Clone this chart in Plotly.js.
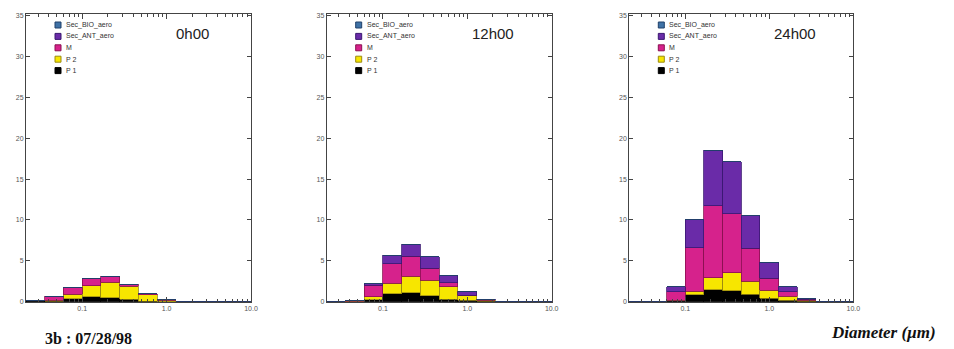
<!DOCTYPE html>
<html>
<head>
<meta charset="utf-8">
<script src="https://cdn.plot.ly/plotly-3.0.1.min.js"></script>
<style>
  html, body { margin: 0; padding: 0; background: #ffffff; }
  #chart { width: 954px; height: 349px; }
</style>
</head>
<body>
<div id="chart"></div>
<script>
// ---------- DATA ----------
// bin-centre diameters (µm), logarithmic size sections
const binDiameters = [0.0279, 0.0465, 0.0774, 0.129, 0.215, 0.359, 0.598, 0.998, 1.66, 2.77, 4.62, 7.71];

const panelTitles = ["0h00", "12h00", "24h00"];
const speciesNames = ["P 1", "P 2", "M", "Sec_ANT_aero", "Sec_BIO_aero"];

// 0h00
const p1_0h  = [0.10, 0.05, 0.35, 0.60, 0.50, 0.30, 0.05, 0.02, 0.02, 0.02, 0.02, 0.02];
const p2_0h  = [0.00, 0.10, 0.55, 1.35, 1.90, 1.60, 0.80, 0.15, 0.02, 0.00, 0.00, 0.00];
const m_0h   = [0.00, 0.50, 0.85, 0.90, 0.70, 0.25, 0.10, 0.05, 0.01, 0.00, 0.00, 0.00];
const ant_0h = [0, 0, 0, 0, 0, 0, 0, 0, 0, 0, 0, 0];
const bio_0h = [0, 0, 0, 0, 0, 0, 0, 0, 0, 0, 0, 0];

// 12h00
const p1_12h  = [0.03, 0.02, 0.25, 1.00, 1.10, 0.70, 0.33, 0.20, 0.03, 0.02, 0.02, 0.02];
const p2_12h  = [0.00, 0.02, 0.35, 1.24, 2.03, 1.94, 1.50, 0.50, 0.15, 0.02, 0.00, 0.00];
const m_12h   = [0.00, 0.05, 1.40, 2.43, 2.44, 1.43, 0.50, 0.10, 0.05, 0.00, 0.00, 0.00];
const ant_12h = [0.00, 0.02, 0.20, 1.00, 1.46, 1.43, 0.93, 0.49, 0.05, 0.00, 0.00, 0.00];
const bio_12h = [0, 0, 0, 0, 0, 0, 0, 0, 0, 0, 0, 0];

// 24h00
const p1_24h  = [0.03, 0.03, 0.10, 0.85, 1.46, 1.34, 0.93, 0.40, 0.20, 0.05, 0.03, 0.03];
const p2_24h  = [0.00, 0.00, 0.10, 0.45, 1.50, 2.23, 1.60, 1.00, 0.45, 0.15, 0.00, 0.00];
const m_24h   = [0.00, 0.02, 1.00, 5.30, 8.80, 7.20, 4.00, 1.50, 0.55, 0.10, 0.00, 0.00];
const ant_24h = [0.00, 0.02, 0.65, 3.50, 6.74, 6.35, 4.00, 1.90, 0.60, 0.10, 0.01, 0.00];
const bio_24h = [0, 0, 0, 0, 0, 0, 0, 0, 0, 0, 0, 0];

const xTickDiameters = [0.1, 1.0, 10.0];
const xTickLabels = ["0.1", "1.0", "10.0"];

// ---------- STYLE ----------
const fills   = ["#000000", "#f7e600", "#d6228c", "#6a2ba8", "#3f72a6"];
const outlines= ["#000000", "#9a8a10", "#8a1050", "#3a1870", "#20406a"];
const W = 954, H = 349;
const panelsPx = [ [26, 251], [326.7, 551.7], [629.3, 853.3] ];
const plotTopPx = 14, plotBottomPx = 301.7;
const binWidthLog = 0.222;
const xRangeLog = [-1.666, 1.0];

const seriesByPanel = [
  [p1_0h, p2_0h, m_0h, ant_0h, bio_0h],
  [p1_12h, p2_12h, m_12h, ant_12h, bio_12h],
  [p1_24h, p2_24h, m_24h, ant_24h, bio_24h]
];

const xLog = binDiameters.map(d => Math.log10(d));
const traces = [];
seriesByPanel.forEach((series, p) => {
  const suffix = p === 0 ? "" : String(p + 1);
  series.forEach((vals, s) => {
    traces.push({
      type: "bar",
      x: xLog,
      y: vals,
      width: binWidthLog,
      name: speciesNames[s],
      xaxis: "x" + suffix,
      yaxis: "y" + suffix,
      marker: { color: fills[s], line: { color: outlines[s], width: 0.8 } },
      showlegend: false,
      hoverinfo: "skip"
    });
  });
});

// minor tick positions on the log-scaled axis
const minorVals = [];
for (let e = -2; e <= 0; e++) {
  for (let m = 2; m <= 9; m++) {
    const v = Math.log10(m * Math.pow(10, e));
    if (v > xRangeLog[0] && v < xRangeLog[1]) minorVals.push(v);
  }
}

const layout = {
  width: W, height: H,
  margin: { l: 0, r: 0, t: 0, b: 0 },
  paper_bgcolor: "#ffffff",
  plot_bgcolor: "#ffffff",
  barmode: "stack",
  bargap: 0,
  showlegend: false,
  font: { family: "Liberation Sans, Arial, sans-serif", color: "#444" },
  shapes: [],
  annotations: []
};

const axisLine = "#444";
panelsPx.forEach((px, p) => {
  const suffix = p === 0 ? "" : String(p + 1);
  layout["xaxis" + suffix] = {
    domain: [px[0] / W, px[1] / W],
    anchor: "y" + suffix,
    range: xRangeLog,
    tickmode: "array",
    tickvals: xTickDiameters.map(d => Math.log10(d)),
    ticktext: xTickLabels,
    ticks: "inside", ticklen: 5, tickwidth: 1, tickcolor: axisLine,
    minor: { tickmode: "array", tickvals: minorVals, ticks: "inside", ticklen: 3, tickcolor: axisLine, showgrid: false },
    showline: true, linecolor: axisLine, linewidth: 1, mirror: "ticks",
    showgrid: false, zeroline: false,
    tickfont: { size: 7, color: "#555" }
  };
  layout["yaxis" + suffix] = {
    domain: [1 - plotBottomPx / H, 1 - plotTopPx / H],
    anchor: "x" + suffix,
    range: [0, 35.2],
    tickmode: "linear", tick0: 0, dtick: 5,
    ticks: "inside", ticklen: 4, tickwidth: 1, tickcolor: axisLine,
    showline: true, linecolor: axisLine, linewidth: 1, mirror: "ticks",
    showgrid: false, zeroline: false,
    tickfont: { size: 7, color: "#555" }
  };

  // panel time label
  layout.annotations.push({
    xref: "paper", yref: "paper",
    x: (px[0] + 166) / W, y: 1 - 33 / H,
    xanchor: "center", yanchor: "middle",
    text: panelTitles[p], showarrow: false,
    font: { size: 15, color: "#222", family: "Liberation Sans, Arial, sans-serif" }
  });

  // in-panel legend (top to bottom: Sec_BIO_aero ... P 1)
  const order = [4, 3, 2, 1, 0];
  order.forEach((s, k) => {
    const cy = 25 + k * 11.4;
    const sx = px[0] + 29;
    layout.shapes.push({
      type: "rect", xref: "paper", yref: "paper",
      x0: sx / W, x1: (sx + 6) / W,
      y0: 1 - (cy + 3) / H, y1: 1 - (cy - 3) / H,
      fillcolor: fills[s], line: { color: outlines[s], width: 1 }
    });
    layout.annotations.push({
      xref: "paper", yref: "paper",
      x: (sx + 9) / W, y: 1 - cy / H,
      xanchor: "left", yanchor: "middle",
      text: speciesNames[s], showarrow: false,
      font: { size: 7, color: "#333", family: "Liberation Sans, Arial, sans-serif" }
    });
  });
});

layout.annotations.push({
  xref: "paper", yref: "paper",
  x: 43 / W, y: 1 - 338 / H,
  xanchor: "left", yanchor: "middle",
  text: "<b>3b : 07/28/98</b>", showarrow: false,
  font: { size: 16, color: "#111", family: "Liberation Serif, Times New Roman, serif" }
});
layout.annotations.push({
  xref: "paper", yref: "paper",
  x: 829 / W, y: 1 - 332 / H,
  xanchor: "left", yanchor: "middle",
  text: "<b><i>Diameter (µm)</i></b>", showarrow: false,
  font: { size: 17, color: "#111", family: "Liberation Serif, Times New Roman, serif" }
});

Plotly.newPlot("chart", traces, layout, { staticPlot: true, displayModeBar: false });
</script>
</body>
</html>
